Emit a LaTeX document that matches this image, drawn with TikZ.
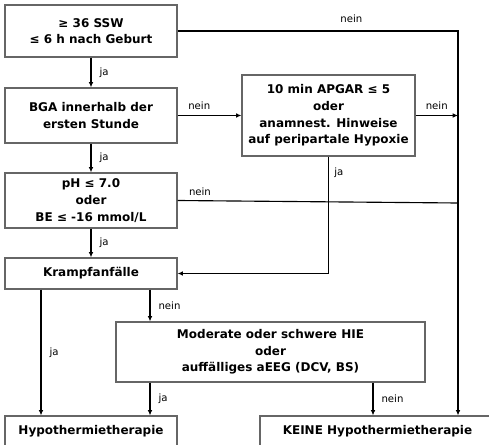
\documentclass[tikz,border=0pt]{standalone}
\usepackage{fontspec}
\setmainfont{DejaVu Sans}
\usepackage{tikz}
\usetikzlibrary{arrows.meta,positioning,calc}

\begin{document}
\begin{tikzpicture}[
  x=0.75pt, y=-0.75pt,
  font=\fontsize{9}{12.5}\selectfont\bfseries,
  box/.style ={draw=black!60,line width=0.8pt,align=center,
               minimum width=129pt,inner sep=2pt},
  lbl/.style ={font=\fontsize{7.6}{9}\selectfont\mdseries,inner sep=1pt},
  >={Latex[length=4pt,width=3.5pt]}]

\useasboundingbox (0,0) rectangle (489,445);

% ---------- Left column ----------
\node[box,minimum height=39pt]    (gest)   at (91,31)    {≥ 36 SSW\\≤ 6 h nach Geburt};
\node[box,minimum height=41.25pt] (bga)    at (91,115.5) {BGA innerhalb der\\ersten Stunde};
\node[box,minimum height=41.25pt] (ph)     at (91,200.5) {pH ≤ 7.0\\oder\\BE ≤ -16 mmol/L};
\node[box,minimum height=23.25pt] (krampf) at (91,273.5) {Krampfanfälle};

% ---------- Right / lower boxes ----------
\node[box,minimum width=129.75pt,minimum height=60.75pt] (apgar) at (328.5,115.5)
  {10 min APGAR ≤ 5\\oder\\anamnest. Hinweise\\auf peripartale Hypoxie};
\node[box,minimum width=231.75pt,minimum height=45pt] (hie) at (270.5,352)
  {Moderate oder schwere HIE\\oder\\auffälliges aEEG (DCV, BS)};
\node[box,minimum height=23.25pt] (hypo) at (91,431.5) {Hypothermietherapie};
\node[box,minimum width=176.25pt,minimum height=23.25pt] (keine) at (377.5,431.5)
  {KEINE Hypothermietherapie};

% columns of the vertical connectors
\coordinate (jx) at (41,0);
\coordinate (nx) at (150,0);
\coordinate (kx) at (373,0);
\coordinate (rx) at (458,0);

% ---------- Connectors ----------
\begin{scope}[line width=0.85pt]
\draw[->] (gest) -- node[lbl,right=5pt]{ja} (bga);
\draw[->] (bga) -- node[lbl,right=5pt]{ja} (ph);
\draw[->] (ph) -- node[lbl,right=5pt]{ja} (krampf);

\draw[->] (gest.east) -| node[lbl,above=5pt,pos=0.31]{nein} (keine.north -| rx);
\draw[->] (bga) -- node[lbl,above=3pt,pos=0.34]{nein} (apgar);
\draw[->] (apgar) -- node[lbl,above=3pt]{nein} (apgar -| rx);
\draw (ph.east) -- node[lbl,above=2pt,pos=0.08]{nein} ($(ph.east -| rx)+(0,2.5)$);
\draw[->] (apgar.south) |- node[lbl,right=3pt,pos=0.07]{ja} (krampf.east);

\draw[->] (krampf.south -| jx) -- node[lbl,right=5pt]{ja} (hypo.north -| jx);
\draw[->] (krampf.south -| nx) -- node[lbl,right=5pt]{nein} (hie.north -| nx);
\draw[->] (hie.south -| nx) -- node[lbl,right=5pt]{ja} (hypo.north -| nx);
\draw[->] (hie.south -| kx) -- node[lbl,right=5pt]{nein} (keine.north -| kx);
\end{scope}

\end{tikzpicture}
\end{document}
